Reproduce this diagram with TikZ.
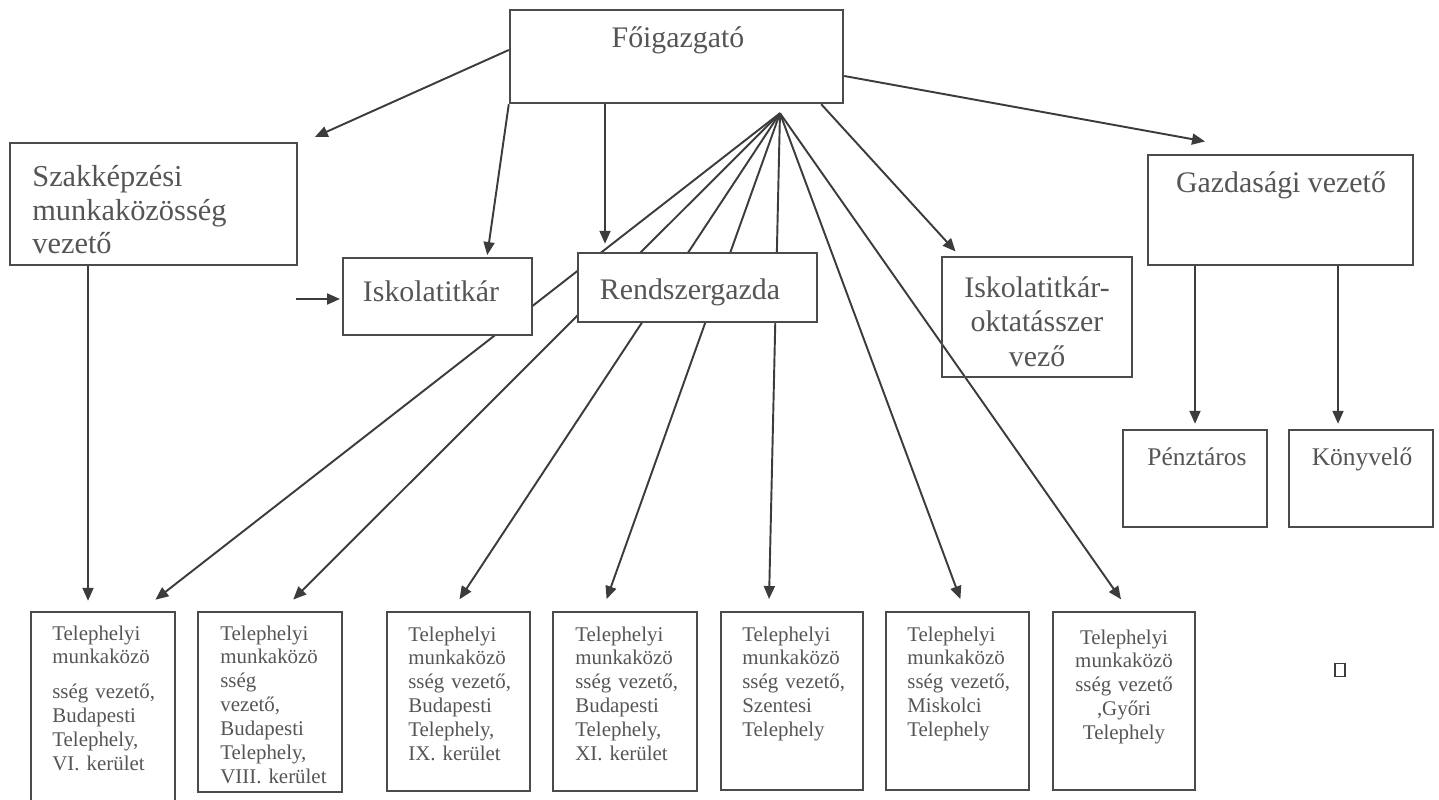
\documentclass[tikz,border=0pt]{standalone}
\usepackage{fontspec}
\setmainfont{Liberation Serif}
\usetikzlibrary{arrows.meta, fit, backgrounds}

\definecolor{linegray}{RGB}{60,60,60}
\definecolor{boxgray}{RGB}{75,75,75}
\definecolor{txtgray}{RGB}{85,85,85}

\begin{document}
\begin{tikzpicture}[
        x = 0.02cm, y = -0.02cm, % one unit = one pixel of the scan
        > = {Triangle[length=0.26cm, width=0.22cm]}, % arrow head style
        shorten > = 1pt, % don't touch arrow head to box
        link/.style = {->, draw = linegray, line width = 1.1pt}
    ]

    \tikzstyle{box}=[draw = boxgray, line width = 1.4pt, inner sep = 0pt]
    \tikzstyle{big}=[text = txtgray, inner sep = 0pt, font = \fontsize{17}{19}\selectfont]
    \tikzstyle{mid}=[text = txtgray, inner sep = 0pt, font = \fontsize{14.5}{17}\selectfont]
    \tikzstyle{small}=[text = txtgray, inner sep = 0pt, text width = 2.6cm, align = left,
        font = \fontsize{11.9}{13.6}\selectfont]

    \useasboundingbox (0,0) rectangle (1439,800);
    \clip (0,0) rectangle (1439,800);

    % upper boxes
    \node[box, fit={(510,10) (843,103)}] (fo) {};
    \node[box, fit={(10,143) (297,265)}] (szak) {};
    \node[box, fill=white, fit={(343,258) (532,335)}] (isk) {};
    \node[box, fill=white, fit={(578,253) (817,322)}] (rend) {};
    \node[box, fit={(942,257) (1132,377)}] (okt) {};
    \node[box, fit={(1148,155) (1413,265)}] (gazd) {};
    \node[box, fit={(1123,430) (1267,527)}] (penz) {};
    \node[box, fit={(1289,430) (1433,527)}] (konyv) {};

    \node[big, anchor=base] (fo-t) at (678,48) {Főigazgató};
    \node[big, anchor=base west, text width=5.4cm, align=left,
        font=\fontsize{17.3}{18.9}\selectfont] (szak-t) at (32,187) {Szakképzési\\munkaközösség\\vezető};
    \node[big, anchor=base] (isk-t) at (431,301) {Iskolatitkár};
    \node[big, anchor=base] (rend-t) at (690,299) {Rendszergazda};
    \node[big, anchor=base, text width=3.6cm, align=center,
        font=\fontsize{17}{19.8}\selectfont] (okt-t) at (1037,297) {Iskolatitkár-\\oktatásszer\\vező};
    \node[big, anchor=base] (gazd-t) at (1281,193) {Gazdasági vezető};
    \node[mid, anchor=base] (penz-t) at (1197,465) {Pénztáros};
    \node[mid, anchor=base] (konyv-t) at (1362,465) {Könyvelő};

    % lower boxes
    \node[box, fit={(31,612) (175,806)}] (b1) {};
    \node[box, fit={(198,612) (342,792)}] (b2) {};
    \node[box, fit={(387,612) (530,791)}] (b3) {};
    \node[box, fit={(553,612) (697,791)}] (b4) {};
    \node[box, fit={(721,612) (863,790)}] (b5) {};
    \node[box, fit={(886,612) (1029,790)}] (b6) {};
    \node[box, fit={(1053,612) (1195,790)}] (b7) {};

    \node[small, anchor=base west] (b1-t) at (52,640) {Telephelyi\\munkaközö\\[0.22cm]sség vezető,\\Budapesti\\Telephely,\\VI. kerület};
    \node[small, anchor=base west] (b2-t) at (220,640) {Telephelyi\\munkaközö\\sség\\vezető,\\Budapesti\\Telephely,\\VIII. kerület};
    \node[small, anchor=base west] (b3-t) at (408,641) {Telephelyi\\munkaközö\\sség vezető,\\Budapesti\\Telephely,\\IX. kerület};
    \node[small, anchor=base west] (b4-t) at (575,641) {Telephelyi\\munkaközö\\sség vezető,\\Budapesti\\Telephely,\\XI. kerület};
    \node[small, anchor=base west] (b5-t) at (742,641) {Telephelyi\\munkaközö\\sség vezető,\\Szentesi\\Telephely};
    \node[small, anchor=base west] (b6-t) at (907,641) {Telephelyi\\munkaközö\\sség vezető,\\Miskolci\\Telephely};
    \node[small, anchor=base, align=center] (b7-t) at (1124,644) {Telephelyi\\munkaközö\\sség vezető\\,Győri\\Telephely};

    \node[draw = linegray, line width = 1.1pt, inner sep = 0pt,
        minimum width = 0.2cm, minimum height = 0.26cm] (dot) at (1340,670) {};

    % arrows from the top
    \coordinate (hub) at ([xshift=2.07cm, yshift=-0.18cm]fo.south);
    \begin{scope}[on background layer]
        \draw[link] (hub) -- ([xshift=1.02cm, yshift=0.2cm]b1.north);
        \draw[link] (hub) -- ([xshift=0.44cm, yshift=0.2cm]b2.north);
        \draw[link] (hub) -- ([yshift=0.2cm]b3.north);
        \draw[link] (hub) -- ([xshift=-0.38cm, yshift=0.2cm]b4.north);
        \draw[link] (hub) -- ([xshift=-0.46cm, yshift=0.2cm]b5.north);
        \draw[link] (hub) -- ([xshift=0.07cm, yshift=0.2cm]b6.north);
        \draw[link] (hub) -- ([xshift=-0.04cm, yshift=0.2cm]b7.north);
    \end{scope}

    \draw[link] ([yshift=0.13cm]fo.west) -- ([xshift=0.3cm, yshift=0.08cm]szak.north east);
    \draw[link] (fo.south west) -- ([xshift=0.99cm]isk.north);
    \coordinate (rend-in) at ([xshift=-1.43cm]fo.south);
    \draw[link, shorten >=0.16cm] (rend-in) -- (rend-in |- rend.north);
    \draw[link] ([xshift=-0.46cm]fo.south east) -- ([xshift=0.32cm, yshift=0.06cm]okt.north west);
    \draw[link] ([yshift=-0.39cm]fo.east) -- ([xshift=1.2cm, yshift=0.24cm]gazd.north west);

    \draw[link, shorten >=0.1cm] (gazd.south -| penz.north) -- (penz.north);
    \coordinate (konyv-in) at ([xshift=-0.46cm]konyv.north);
    \draw[link, shorten >=0.1cm] (gazd.south -| konyv-in) -- (konyv-in);

    \coordinate (szak-out) at ([xshift=-1.31cm]szak.south);
    \draw[link, shorten >=0.2cm] (szak-out) -- (szak-out |- b1.north);
    \coordinate (isk-from) at (296,299);
    \draw[link] (isk-from) -- (isk-from -| isk.west);
\end{tikzpicture}
\end{document}
